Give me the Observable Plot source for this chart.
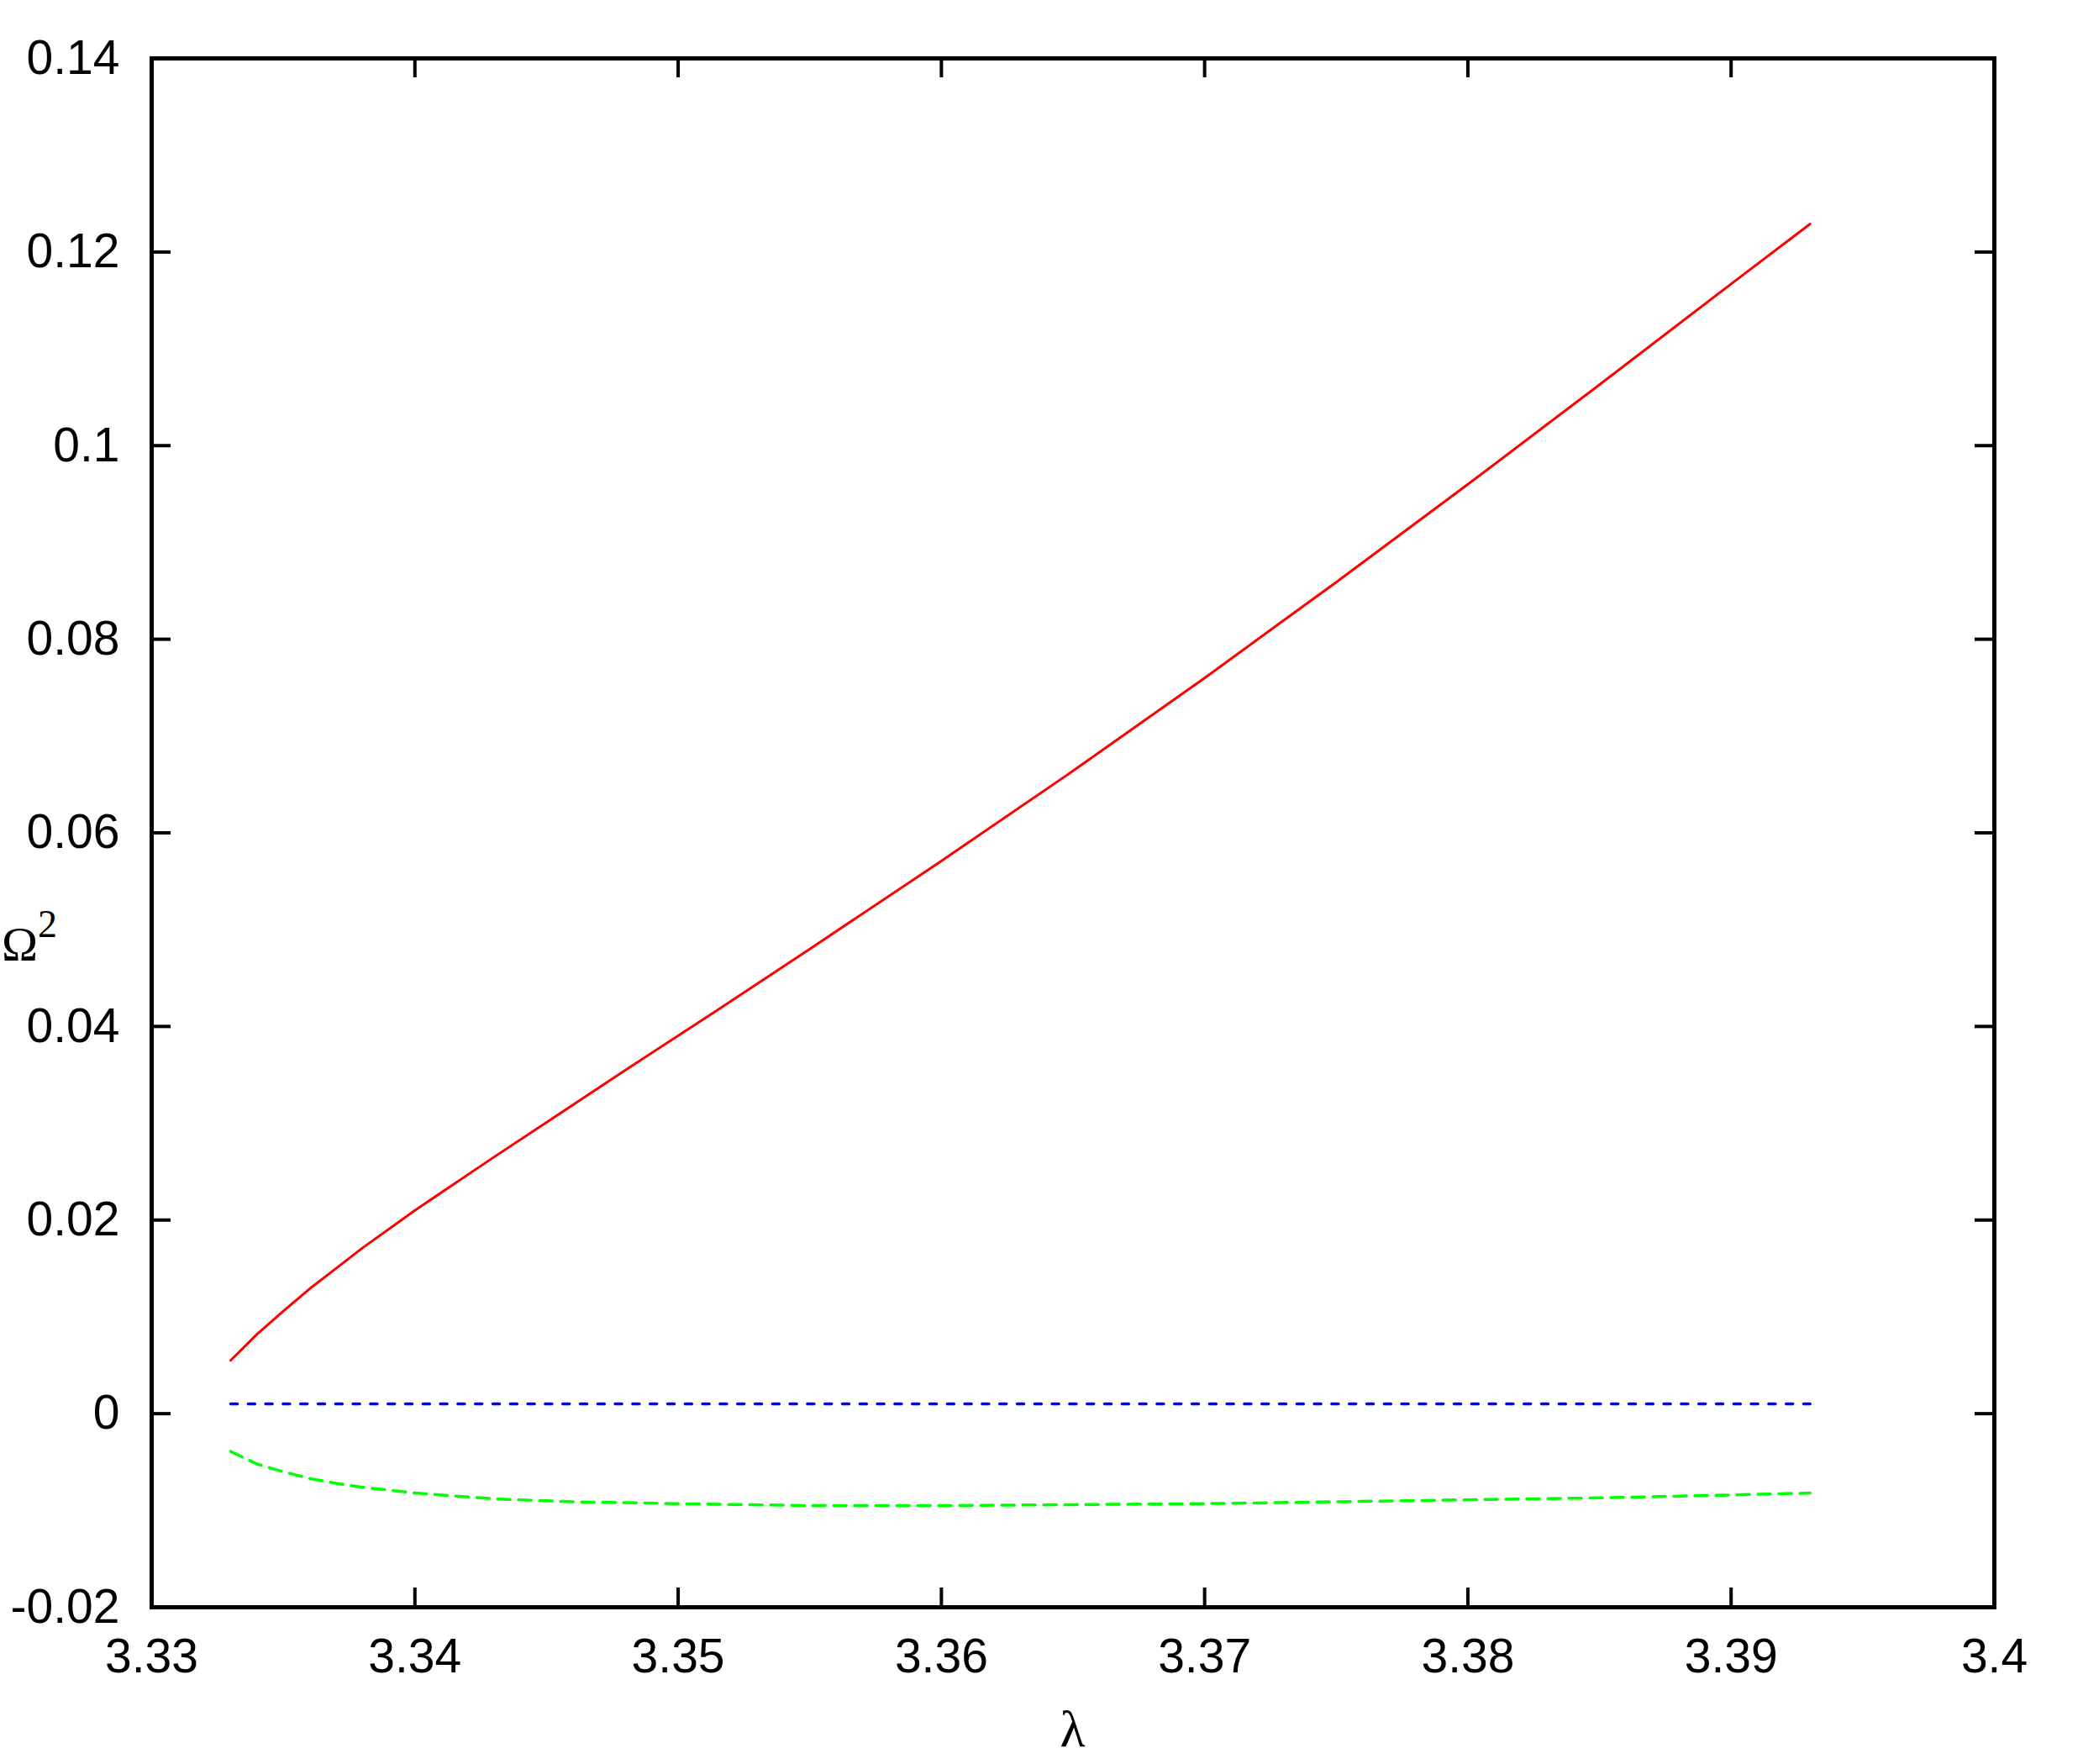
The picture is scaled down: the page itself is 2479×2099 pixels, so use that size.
<!DOCTYPE html>
<html>
<head>
<meta charset="utf-8">
<script src="https://cdn.jsdelivr.net/npm/d3@7"></script>
<script src="https://cdn.jsdelivr.net/npm/@observablehq/plot@0.6"></script>
<style>
  html, body { margin: 0; padding: 0; background: #ffffff; }
  #chart svg { display: block; }
</style>
</head>
<body>
<div id="chart"></div>
<script>
// ---- data ----
const lambdaRed = [3.333, 3.334, 3.335, 3.336, 3.337, 3.338, 3.340, 3.343, 3.345, 3.348, 3.3515, 3.355, 3.360, 3.365, 3.370, 3.375, 3.380, 3.385, 3.390, 3.393];
const omegaRed  = [0.0055, 0.0082, 0.0106, 0.0129, 0.0150, 0.0171, 0.0210, 0.0265, 0.0301, 0.0355, 0.0417, 0.0480, 0.0571, 0.0664, 0.0760, 0.0859, 0.0960, 0.1063, 0.1167, 0.1229];

const lambdaBlue = [3.333, 3.393];
const omegaBlue  = [0.0010, 0.0010];

const lambdaGreen = [3.333, 3.334, 3.335, 3.336, 3.337, 3.338, 3.340, 3.343, 3.346, 3.350, 3.355, 3.360, 3.365, 3.370, 3.375, 3.380, 3.385, 3.390, 3.393];
const omegaGreen  = [-0.0039, -0.0052, -0.0060, -0.0067, -0.0072, -0.0076, -0.0082, -0.0088, -0.0091, -0.0093, -0.0095, -0.0095, -0.0094, -0.0093, -0.0091, -0.0089, -0.0087, -0.0084, -0.0082];

const xTicks = [3.33, 3.34, 3.35, 3.36, 3.37, 3.38, 3.39, 3.40];
const yTicks = [-0.02, 0, 0.02, 0.04, 0.06, 0.08, 0.10, 0.12, 0.14];
const xDomain = [3.33, 3.40];
const yDomain = [-0.02, 0.14];
const xLabel = "λ";
const yLabelBase = "Ω";
const yLabelSup = "2";

const toRows = (xs, ys) => xs.map((x, i) => ({x, y: ys[i]}));
const red = toRows(lambdaRed, omegaRed);
const blue = toRows(lambdaBlue, omegaBlue);
const green = toRows(lambdaGreen, omegaGreen);

const fmt = d => String(+(+d).toFixed(2));

const W = 2479, H = 2099;
const mL = 180, mR = 106, mT = 69, mB = 187;
const innerH = H - mT - mB;
const innerW = W - mL - mR;
const tickLen = 23;

const plot = Plot.plot({
  width: W,
  height: H,
  marginLeft: mL,
  marginRight: mR,
  marginTop: mT,
  marginBottom: mB,
  style: {fontFamily: "'Liberation Sans', Arial, Helvetica, sans-serif", fontSize: "57px", background: "#ffffff", color: "#000000"},
  x: {domain: xDomain},
  y: {domain: yDomain},
  marks: [
    // inward ticks on all four sides
    Plot.tickX(xTicks, {x: d => d, stroke: "#000", strokeWidth: 4, insetTop: innerH - tickLen}),
    Plot.tickX(xTicks, {x: d => d, stroke: "#000", strokeWidth: 4, insetBottom: innerH - tickLen}),
    Plot.tickY(yTicks, {y: d => d, stroke: "#000", strokeWidth: 4, insetRight: innerW - tickLen}),
    Plot.tickY(yTicks, {y: d => d, stroke: "#000", strokeWidth: 4, insetLeft: innerW - tickLen}),
    Plot.axisX({ticks: xTicks, tickSize: 0, tickPadding: 37, tickFormat: fmt, label: null, fontSize: 57}),
    Plot.axisY({ticks: yTicks, tickSize: 0, tickPadding: 38, tickFormat: fmt, label: null, fontSize: 57}),
    Plot.line(red, {x: "x", y: "y", stroke: "#ff0000", strokeWidth: 3}),
    Plot.line(blue, {x: "x", y: "y", stroke: "#0000ff", strokeWidth: 3.5, strokeDasharray: "8,12.8"}),
    Plot.line(green, {x: "x", y: "y", stroke: "#00ff00", strokeWidth: 3.5, strokeDasharray: "15,10"}),
    Plot.frame({stroke: "#000", strokeWidth: 5})
  ]
});

document.getElementById("chart").appendChild(plot);

// axis titles (serif, like the reference)
const svg = d3.select(plot);
svg.append("text")
  .attr("x", (mL + (W - mR)) / 2)
  .attr("y", 2078)
  .attr("text-anchor", "middle")
  .attr("font-family", "'Liberation Serif', 'Times New Roman', serif")
  .attr("font-size", 62)
  .attr("fill", "#000")
  .text(xLabel);

const yl = svg.append("text")
  .attr("x", 2)
  .attr("y", 1143)
  .attr("text-anchor", "start")
  .attr("font-family", "'Liberation Serif', 'Times New Roman', serif")
  .attr("font-size", 58)
  .attr("fill", "#000");
yl.append("tspan").text(yLabelBase);
yl.append("tspan").attr("dy", -28).attr("font-size", 46).text(yLabelSup);
</script>
</body>
</html>
